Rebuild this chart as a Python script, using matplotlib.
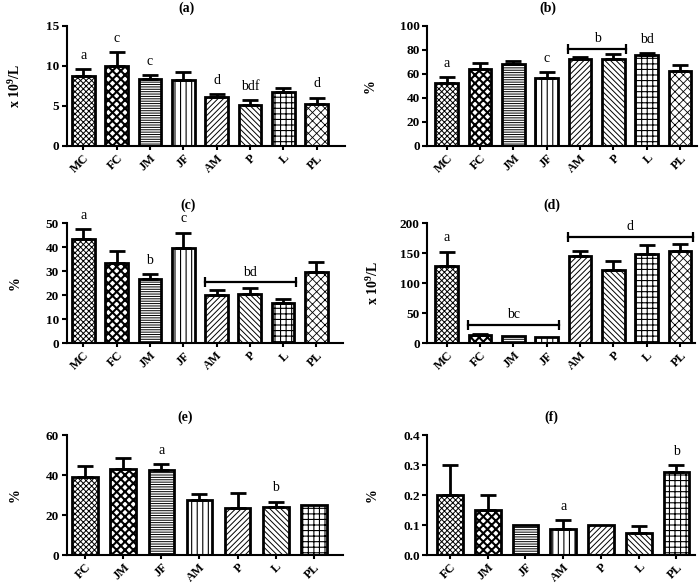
import numpy as np
import matplotlib
matplotlib.use("Agg")
import matplotlib.pyplot as plt

plt.rcParams['font.family'] = ['Liberation Serif', 'DejaVu Serif']
plt.rcParams['hatch.linewidth'] = 0.8
plt.rcParams['mathtext.fontset'] = 'custom'
plt.rcParams['mathtext.rm'] = 'Liberation Serif'
plt.rcParams['mathtext.bf'] = 'Liberation Serif:bold'

# ---------------- data ----------------
cats8 = ["MC", "FC", "JM", "JF", "AM", "P", "L", "PL"]
cats7 = ["FC", "JM", "JF", "AM", "P", "L", "PL"]

a_vals = [8.75, 10.0, 8.4, 8.2, 6.1, 5.1, 6.8, 5.3]
a_err = [0.85, 1.7, 0.5, 1.0, 0.4, 0.65, 0.4, 0.75]
a_letters = ["a", "c", "c", "", "d", "bdf", "", "d"]

b_vals = [52.2, 63.9, 68.3, 56.7, 72.5, 72.8, 75.6, 62.8]
b_err = [5.0, 5.0, 2.5, 5.2, 1.9, 3.9, 1.9, 4.7]
b_letters = ["a", "", "", "c", "", "", "bd", ""]

c_vals = [43.3, 33.3, 26.7, 39.9, 20.3, 20.6, 16.9, 29.7]
c_err = [4.2, 5.2, 2.3, 6.2, 1.8, 2.4, 1.6, 4.2]
c_letters = ["a", "", "b", "c", "", "", "", ""]

d_vals = [128.9, 13.3, 12.2, 11.1, 145.6, 122.8, 148.3, 153.3]
d_err = [23.9, 2.3, 0.0, 0.0, 8.8, 13.9, 15.0, 12.8]
d_letters = ["a", "", "", "", "", "", "", ""]

e_vals = [38.8, 43.0, 42.3, 27.7, 23.3, 24.2, 24.8]
e_err = [5.7, 5.3, 3.2, 2.8, 7.9, 2.5, 0.0]
e_letters = ["", "", "a", "", "", "b", ""]

f_vals = [0.20, 0.15, 0.10, 0.087, 0.10, 0.074, 0.276]
f_err = [0.10, 0.05, 0.0, 0.030, 0.0, 0.024, 0.024]
f_letters = ["", "", "", "a", "", "", "b"]

# brackets: (first index, last index, y, label)
b_brackets = [(4, 5, 81, "b")]
c_brackets = [(4, 6, 25.5, "bd")]
d_brackets = [(1, 3, 31, "bc"), (4, 7, 178, "d")]

hatches = ['xxxxxx', 'xxxx', '-------', '|||', '//////', '\\\\\\\\\\\\', '+++', 'xxxx']
hatch_lw = [0.7, 1.5, 0.7, 0.8, 0.7, 0.7, 0.8, 0.6]

W, H = 700, 584
fig = plt.figure(figsize=(7, 5.84), dpi=100)


def ax_at(x0, x1, ytop, ybot):
    return fig.add_axes([x0 / W, 1 - ybot / H, (x1 - x0) / W, (ybot - ytop) / H])


def panel(ax, cats, vals, errs, letters, ylim, yticks, fmt, xlim, title, tx,
          ylabel, ylab_px, brackets=()):
    x = np.arange(len(cats))
    bars = ax.bar(x, vals, width=0.68, color='white', edgecolor='black',
                  linewidth=2.0, zorder=2)
    for i, b in enumerate(bars):
        b.set_hatch(hatches[i])
        try:
            b.set_hatch_linewidth(hatch_lw[i])
        except Exception:
            pass
    errs_arr = np.array(errs)
    mask = errs_arr > 0
    ax.errorbar(x[mask], np.array(vals)[mask],
                yerr=[np.zeros(mask.sum()), errs_arr[mask]],
                fmt='none', ecolor='black', elinewidth=2.0, capsize=5.5,
                capthick=2.0, zorder=3)
    ax.set_ylim(*ylim)
    ax.set_xlim(*xlim)
    ax.set_yticks(yticks)
    ax.set_yticklabels([fmt.format(t) for t in yticks], fontweight='bold', fontsize=9.5)
    ax.set_xticks(x)
    ax.set_xticklabels(cats, rotation=45, ha='right', rotation_mode='anchor',
                       fontweight='bold', fontsize=8.8)
    ax.tick_params(axis='both', direction='out', width=1.5, length=3.5, pad=2)
    ax.tick_params(axis='x', length=3, pad=1.5)
    for s in ['top', 'right']:
        ax.spines[s].set_visible(False)
    for s in ['left', 'bottom']:
        ax.spines[s].set_linewidth(1.5)
    ax.set_title(title, x=tx, fontweight='bold', fontsize=10, pad=10.5)
    span = ylim[1] - ylim[0]
    for i, l in enumerate(letters):
        if l:
            y = vals[i] + errs[i] + span * 0.06
            ax.text(x[i], y, l, ha='center', va='bottom', fontsize=10)
    for (i0, i1, y, lab) in brackets:
        ax.plot([i0 - 0.35, i1 + 0.38], [y, y], color='black', lw=1.6,
                marker='|', markersize=7, markeredgewidth=1.6, zorder=4,
                clip_on=False)
        ax.text((i0 - 0.35 + i1 + 0.38) / 2, y + span * 0.03, lab,
                ha='center', va='bottom', fontsize=10)
    pos = ax.get_position()
    yc = (pos.y0 + pos.y1) / 2
    fig.text(ylab_px / W, yc, ylabel, rotation=90, ha='center', va='center',
             fontsize=10, fontweight='bold')


ylab_x109 = r'x 10$^{\mathbf{9}}$/L'

axa = ax_at(66.7, 345, 26, 146)
panel(axa, cats8, a_vals, a_err, a_letters, (0, 15), [0, 5, 10, 15], '{:g}',
      (-0.5, 7.85), '(a)', 0.431, ylab_x109, 15)

axb = ax_at(427.3, 696.7, 26, 146)
panel(axb, cats8, b_vals, b_err, b_letters, (0, 100), [0, 20, 40, 60, 80, 100], '{:g}',
      (-0.58, 7.5), '(b)', 0.448, '%', 370, brackets=b_brackets)

axc = ax_at(66.7, 343, 223.3, 343.3)
panel(axc, cats8, c_vals, c_err, c_letters, (0, 50), [0, 10, 20, 30, 40, 50], '{:g}',
      (-0.5, 7.8), '(c)', 0.439, '%', 15, brackets=c_brackets)

axd = ax_at(427.3, 695, 223.3, 343.3)
panel(axd, cats8, d_vals, d_err, d_letters, (0, 200), [0, 50, 100, 150, 200], '{:g}',
      (-0.58, 7.45), '(d)', 0.465, ylab_x109, 373, brackets=d_brackets)

axe = ax_at(66.7, 343.3, 435, 555)
panel(axe, cats7, e_vals, e_err, e_letters, (0, 60), [0, 20, 40, 60], '{:g}',
      (-0.49, 6.78), '(e)', 0.428, '%', 15)

axf = ax_at(427.3, 695, 435, 555)
panel(axf, cats7, f_vals, f_err, f_letters, (0, 0.4), [0.0, 0.1, 0.2, 0.3, 0.4], '{:.1f}',
      (-0.6, 6.49), '(f)', 0.465, '%', 372)

fig.savefig('out.png', dpi=100)
